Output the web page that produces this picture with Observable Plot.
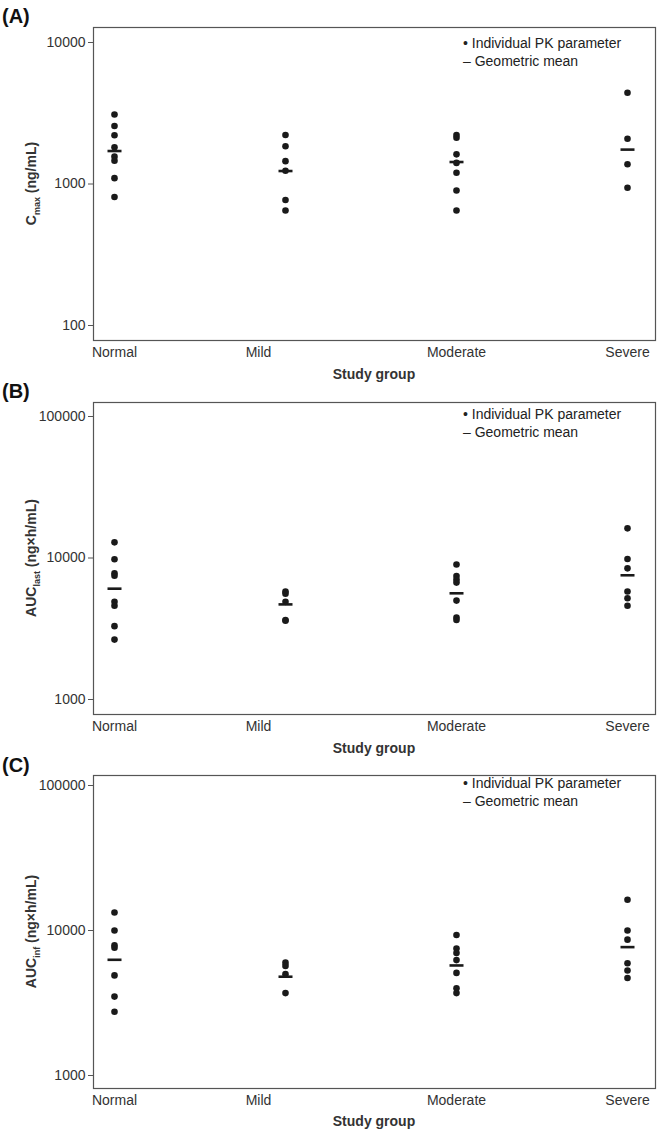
<!DOCTYPE html>
<html>
<head>
<meta charset="utf-8">
<script src="https://cdn.jsdelivr.net/npm/d3@7"></script>
<script src="https://cdn.jsdelivr.net/npm/@observablehq/plot@0.6"></script>
<style>
  body { margin: 0; background: #fff; font-family: "Liberation Sans", Arial, sans-serif; }
  svg { display: block; }
</style>
</head>
<body>
<div id="chart"></div>
<script>
const groups = ["Normal", "Mild", "Moderate", "Severe"];

// Panel A: Cmax (ng/mL)
const cmaxValues = [
  [3100, 2570, 2210, 1820, 1560, 1460, 1100, 810],
  [2220, 1850, 1450, 1240, 770, 650],
  [2220, 2120, 1620, 1410, 1200, 900, 650],
  [4410, 2090, 1380, 940]
];
const cmaxMeans = [1710, 1235, 1430, 1750];
const cmaxTicks = [100, 1000, 10000];

// Panel B: AUClast (ng×h/mL)
const auclastValues = [
  [12900, 9800, 7800, 7500, 4900, 4600, 3300, 2650],
  [5800, 5600, 4900, 3650, 3600],
  [9000, 7450, 7050, 6700, 5000, 3800, 3650],
  [16200, 9850, 8450, 5800, 5200, 4600]
];
const auclastMeans = [6070, 4700, 5630, 7550];
const auclastTicks = [1000, 10000, 100000];

// Panel C: AUCinf (ng×h/mL)
const aucinfValues = [
  [13300, 10000, 7900, 7600, 4900, 3500, 2750],
  [6000, 5700, 5000, 3700],
  [9300, 7500, 7000, 6250, 5100, 4000, 3700],
  [16300, 10000, 8650, 5950, 5300, 4700]
];
const aucinfMeans = [6280, 4800, 5740, 7680];
const aucinfTicks = [1000, 10000, 100000];

const legendLabels = ["\u2022 Individual PK parameter", "\u2013 Geometric mean"];
const xTitle = "Study group";

const meanSymbol = {
  draw(context) {
    context.moveTo(-7, 0);
    context.lineTo(7, 0);
  }
};

function makePanel(cfg) {
  const points = [];
  cfg.values.forEach((arr, i) => arr.forEach(v => points.push({group: groups[i], value: v})));
  const means = cfg.means.map((v, i) => ({group: groups[i], value: v}));
  const W = 661;
  const svg = Plot.plot({
    width: W,
    height: cfg.height,
    marginLeft: 93,
    marginRight: 6,
    marginTop: cfg.marginTop,
    marginBottom: cfg.marginBottom,
    style: {fontFamily: "Liberation Sans, Arial, sans-serif", fontSize: "14px", color: "#333", background: "#fff", overflow: "visible"},
    x: {type: "point", domain: groups, padding: 0, insetLeft: 20, insetRight: 27, label: null},
    y: {type: "log", domain: cfg.domain, insetTop: cfg.insetTop, insetBottom: cfg.insetBottom, label: null},
    marks: [
      Plot.frame({stroke: "#555", strokeWidth: 1.2}),
      Plot.axisY({ticks: cfg.ticks, tickFormat: d => String(d), tickSize: 5, tickPadding: 3, stroke: "#555", fill: "#333", fontSize: 14}),
      Plot.axisX({tickSize: 0, tickPadding: 7, fill: "#333", fontSize: 14}),
      Plot.dot(points, {x: "group", y: "value", r: 3.3, fill: "#1a1a1a", stroke: null}),
      Plot.dot(means, {x: "group", y: "value", symbol: meanSymbol, stroke: "#1a1a1a", strokeWidth: 2.6, fill: "none", r: 4})
    ]
  });
  const s = d3.select(svg);
  // Offset the "Mild" label as in the original figure
  s.selectAll('g[aria-label="x-axis tick label"] text').each(function() {
    if (d3.select(this).text() === "Mild") d3.select(this).attr("x", -27);
  });
  const frameMid = cfg.marginTop + (cfg.height - cfg.marginTop - cfg.marginBottom) / 2;
  // Panel tag
  s.append("text").attr("x", 2).attr("y", cfg.tagY).attr("text-anchor", "start")
    .attr("font-size", 20).attr("font-weight", "bold").attr("fill", "#111").text(cfg.tag);
  // Y label with subscript
  const yl = s.append("text").attr("transform", `translate(36,${frameMid}) rotate(-90)`)
    .attr("text-anchor", "middle").attr("font-size", 14).attr("font-weight", "bold").attr("fill", "#333");
  yl.append("tspan").text(cfg.yMain);
  yl.append("tspan").attr("font-size", 9).attr("dy", 4).text(cfg.ySub);
  yl.append("tspan").attr("dy", -4).text(" " + cfg.yUnit);
  // X title
  s.append("text").attr("x", 374).attr("y", cfg.xTitleY).attr("text-anchor", "middle")
    .attr("font-size", 14).attr("font-weight", "bold").attr("fill", "#333").text(xTitle);
  // Legend
  legendLabels.forEach((t, i) => {
    s.append("text").attr("x", 463).attr("y", cfg.legendY + i * 18).attr("dominant-baseline", "middle")
      .attr("text-anchor", "start").attr("font-size", 14).attr("fill", "#222").text(t);
  });
  return svg;
}

const chart = document.getElementById("chart");
chart.appendChild(makePanel({
  values: cmaxValues, means: cmaxMeans, ticks: cmaxTicks, domain: [100, 10000],
  height: 383, marginTop: 27, marginBottom: 43, insetTop: 15, insetBottom: 15,
  tag: "(A)", tagY: 23, yMain: "C", ySub: "max", yUnit: "(ng/mL)", xTitleY: 379, legendY: 44
}));
chart.appendChild(makePanel({
  values: auclastValues, means: auclastMeans, ticks: auclastTicks, domain: [1000, 100000],
  height: 374, marginTop: 19, marginBottom: 43, insetTop: 14, insetBottom: 15,
  tag: "(B)", tagY: 15, yMain: "AUC", ySub: "last", yUnit: "(ng\u00d7h/mL)", xTitleY: 370, legendY: 32
}));
chart.appendChild(makePanel({
  values: aucinfValues, means: aucinfMeans, ticks: aucinfTicks, domain: [1000, 100000],
  height: 381, marginTop: 18, marginBottom: 50, insetTop: 10, insetBottom: 13,
  tag: "(C)", tagY: 15, yMain: "AUC", ySub: "inf", yUnit: "(ng\u00d7h/mL)", xTitleY: 369, legendY: 27
}));
</script>
</body>
</html>
